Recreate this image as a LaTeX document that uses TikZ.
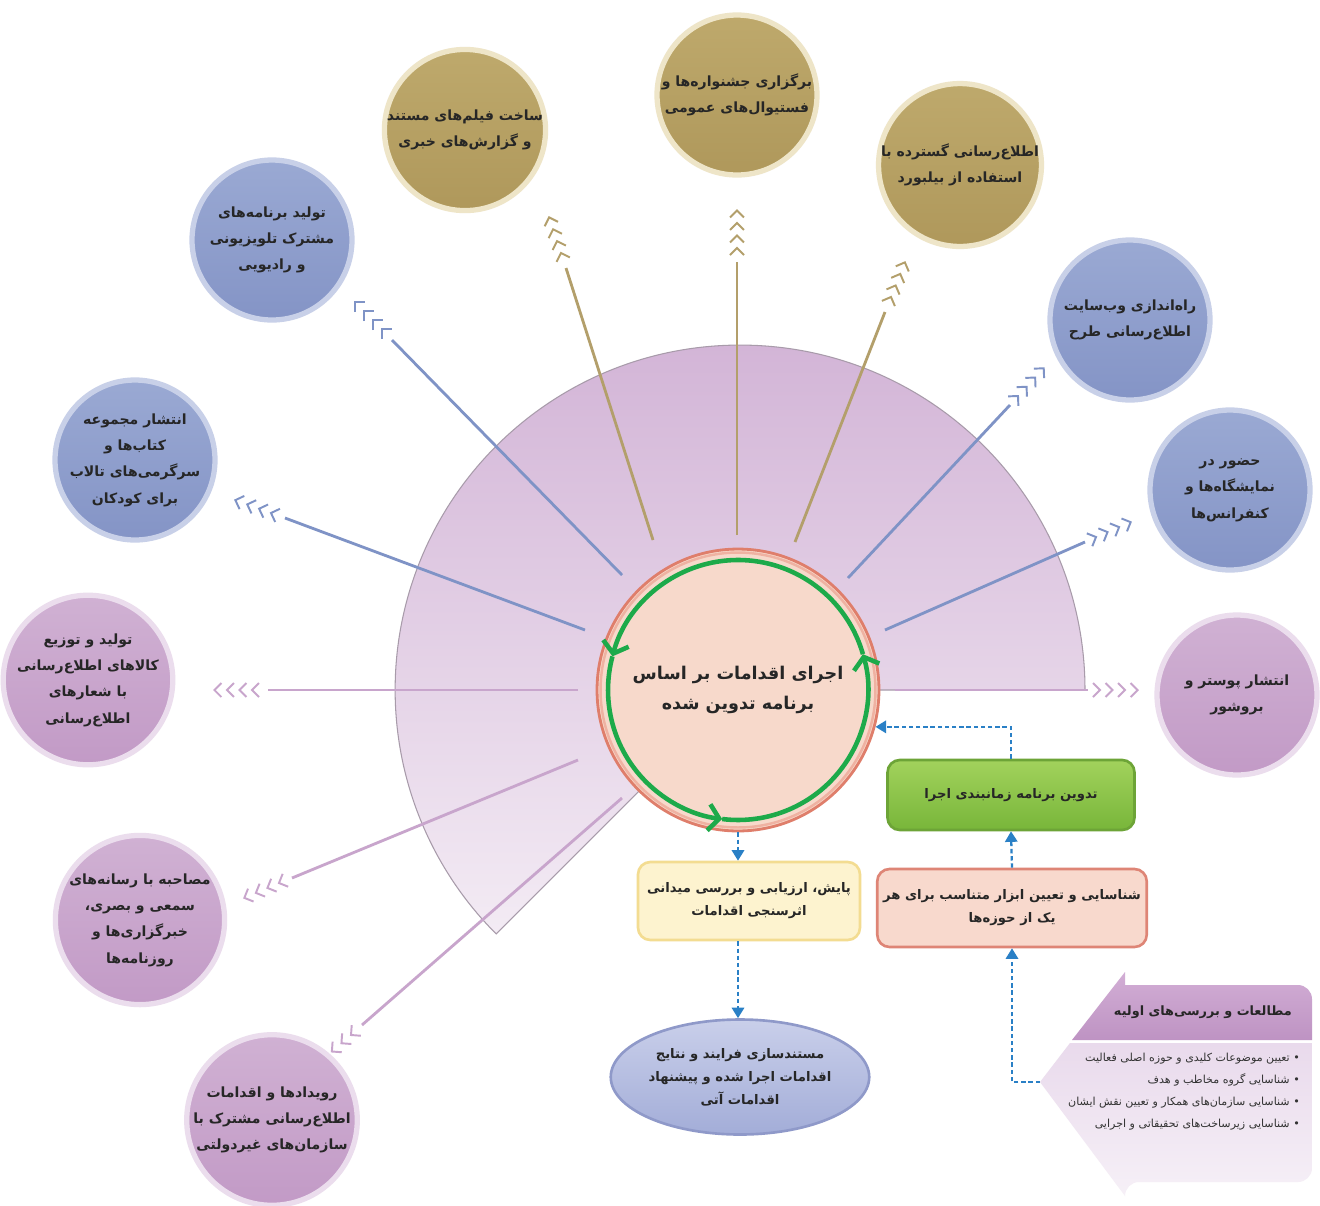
\documentclass[tikz,border=0pt]{standalone}
\usepackage{fontspec}
\usetikzlibrary{arrows.meta,calc,decorations.markings,shapes.geometric}
\newfontfamily\arabicfont[Script=Arabic]{DejaVu Sans}
\TeXXeTstate=1
\newcommand{\fa}[1]{\beginR #1\endR}
\definecolor{goldF}{HTML}{AF985B}
\definecolor{goldT}{HTML}{BEA96C}
\definecolor{goldH}{HTML}{EEE5C8}
\definecolor{goldL}{HTML}{B39F6B}
\definecolor{blueF}{HTML}{8494C6}
\definecolor{blueT}{HTML}{9AA9D3}
\definecolor{blueH}{HTML}{C8D0E8}
\definecolor{blueL}{HTML}{7F93C6}
\definecolor{purpF}{HTML}{C29AC6}
\definecolor{purpT}{HTML}{D0B1D3}
\definecolor{purpH}{HTML}{EBDDED}
\definecolor{purpL}{HTML}{C8A5CC}
\definecolor{secT}{HTML}{D3B5D7}
\definecolor{secB}{HTML}{F3EBF4}
\definecolor{secE}{HTML}{A89BAA}
\definecolor{centF}{HTML}{F7D9CB}
\definecolor{centE}{HTML}{DF7E6B}
\definecolor{centI}{HTML}{EFB2A2}
\definecolor{greenA}{HTML}{1DAA4A}
\definecolor{dotB}{HTML}{2A80C6}
\definecolor{greenT}{HTML}{A2D25C}
\definecolor{greenB}{HTML}{78B63A}
\definecolor{greenE}{HTML}{6DA437}
\definecolor{pinkF}{HTML}{F8D9CD}
\definecolor{pinkE}{HTML}{DE8576}
\definecolor{yelF}{HTML}{FDF3CF}
\definecolor{yelE}{HTML}{F3DC91}
\definecolor{ellT}{HTML}{C9CFEA}
\definecolor{ellB}{HTML}{A3ADD8}
\definecolor{ellE}{HTML}{8F99C9}
\definecolor{hdrT}{HTML}{D2AED5}
\definecolor{hdrB}{HTML}{BE93C3}
\definecolor{bodT}{HTML}{E9DAEC}
\definecolor{bodB}{HTML}{F6F0F7}
\tikzset{
  bubble/.style={circle, minimum size=3.2cm, inner sep=0pt, line width=3pt, align=center,
    font=\arabicfont\bfseries\fontsize{8}{15}\selectfont, text=black!85},
  goldB/.style={bubble, draw=goldH, top color=goldT, bottom color=goldF},
  blueB/.style={bubble, draw=blueH, top color=blueT, bottom color=blueF},
  purpB/.style={bubble, draw=purpH, top color=purpT, bottom color=purpF},
  link/.style={line width=1.6pt, draw=#1},
  chev/.style={decoration={markings, mark=between positions 0 and 1 step 0.33 with
    {\draw[draw=#1, line width=1.1pt] (-7,7) -- (0,0) -- (-7,-7);}}, decorate},
  flow/.style={draw=dotB, line width=1.3pt, dash pattern=on 2.5pt off 1.6pt,
    -{Triangle[length=6pt,width=7pt]}},
  boxtext/.style={font=\arabicfont\bfseries\fontsize{7.5}{13}\selectfont, align=center, text=black!85},
  stepbox/.style={boxtext, rectangle, rounded corners=7pt, line width=1.5pt},
  greenarc/.style={draw=greenA, line width=2.6pt, -{Straight Barb[length=6pt,width=15pt]}}
}
\begin{document}
\begin{tikzpicture}[x=0.02cm,y=0.02cm]
\useasboundingbox (0,0) rectangle (1320,-1205);
\fill[white] (0,0) rectangle (1320,-1205);
% big sector
\path[draw=secE, line width=0.6pt, top color=secT, bottom color=secB]
  (740,-690) -- (1085,-690) arc[start angle=0, end angle=225, radius=6.9cm] -- cycle;
% connectors with chevrons
\foreach \n/\cl/\sx/\sy/\ex/\ey/\kx/\ky/\tx/\ty in {
 1/goldL/653/-540/566/-268/561/-253/549/-217,
 2/goldL/737/-535/737/-262/737/-248/737/-210,
 3/goldL/795/-542/885/-312/891/-297/905/-262,
 4/blueL/622/-575/392/-340/382/-329/355/-302,
 5/blueL/585/-630/285/-518/271/-513/235/-500,
 6/blueL/848/-578/1010/-405/1018/-396/1044/-368,
 7/blueL/885/-630/1085/-542/1096/-537/1131/-522,
 8/purpL/895/-690/1088/-690/1100/-690/1138/-690,
 9/purpL/578/-690/268/-690/252/-690/214/-690,
 10/purpL/578/-760/292/-878/279/-883/244/-898,
 11/purpL/622/-798/362/-1025/351/-1035/322/-1060}
{
  \coordinate (S\n) at (\sx,\sy);
  \coordinate (E\n) at (\ex,\ey);
  \coordinate (K\n) at (\kx,\ky);
  \coordinate (T\n) at (\tx,\ty);
  \draw[link=\cl] (S\n) -- (E\n);
  \path[chev=\cl] (K\n) -- (T\n);
}
% center circle
\node[circle, minimum size=5.64cm, fill=centF, draw=centE, line width=1.6pt, inner sep=0pt,
  align=center, font=\arabicfont\bfseries\fontsize{10}{17}\selectfont, text=black!85] (C) at (738,-690)
  {\fa{اجرای اقدامات بر اساس}\\\fa{برنامه تدوین شده}};
\draw[centI, line width=1.4pt] (C.center) circle[radius=2.75cm];
\draw[greenarc] ($(C.center)+(263:2.6cm)$) arc[start angle=263, end angle=376, radius=2.6cm];
\draw[greenarc] ($(C.center)+(16:2.6cm)$) arc[start angle=16, end angle=165, radius=2.6cm];
\draw[greenarc] ($(C.center)+(165:2.6cm)$) arc[start angle=165, end angle=263, radius=2.6cm];
% outer bubbles
\node[goldB] (G1) at (465,-130) {\fa{ساخت فیلم‌های مستند}\\\fa{و گزارش‌های خبری}};
\node[goldB] (G2) at (737,-95) {\fa{برگزاری جشنواره‌ها و}\\\fa{فستیوال‌های عمومی}};
\node[goldB] (G3) at (960,-165) {\fa{اطلاع‌رسانی گسترده با}\\\fa{استفاده از بیلبورد}};
\node[blueB] (B1) at (272,-240) {\fa{تولید برنامه‌های}\\\fa{مشترک تلویزیونی}\\\fa{و رادیویی}};
\node[blueB] (B2) at (135,-460) {\fa{انتشار مجموعه}\\\fa{کتاب‌ها و}\\\fa{سرگرمی‌های تالاب}\\\fa{برای کودکان}};
\node[blueB] (B3) at (1130,-320) {\fa{راه‌اندازی وب‌سایت}\\\fa{اطلاع‌رسانی طرح}};
\node[blueB] (B4) at (1230,-490) {\fa{حضور در}\\\fa{نمایشگاه‌ها و}\\\fa{کنفرانس‌ها}};
\node[purpB] (P1) at (1237,-695) {\fa{انتشار پوستر و}\\\fa{بروشور}};
\node[purpB] (P2) at (88,-680) {\fa{تولید و توزیع}\\\fa{کالاهای اطلاع‌رسانی}\\\fa{با شعارهای}\\\fa{اطلاع‌رسانی}};
\node[purpB] (P3) at (140,-920) {\fa{مصاحبه با رسانه‌های}\\\fa{سمعی و بصری،}\\\fa{خبرگزاری‌ها و}\\\fa{روزنامه‌ها}};
\node[purpB] (P4) at (272,-1120) {\fa{رویدادها و اقدامات}\\\fa{اطلاع‌رسانی مشترک با}\\\fa{سازمان‌های غیردولتی}};
% process boxes
\node[stepbox, draw=greenE, top color=greenT, bottom color=greenB, minimum width=4.94cm, minimum height=1.4cm] (Gr) at (1011,-795)
  {\fa{تدوین برنامه زمانبندی اجرا}};
\node[stepbox, draw=pinkE, fill=pinkF, minimum width=5cm, minimum height=1.56cm] (Pk) at (1012,-908)
  {\fa{شناسایی و تعیین ابزار متناسب برای هر}\\\fa{یک از حوزه‌ها}};
\node[stepbox, draw=yelE, fill=yelF, minimum width=4.44cm, minimum height=1.56cm] (Y) at (749,-901)
  {\fa{پایش، ارزیابی و بررسی میدانی}\\\fa{اثرسنجی اقدامات}};
\node[boxtext, ellipse, draw=ellE, line width=1.5pt, top color=ellT, bottom color=ellB, minimum width=4cm, minimum height=2.3cm, inner sep=0pt] (Ev) at (740,-1077)
  {\fa{مستندسازی فرایند و نتایج}\\\fa{اقدامات اجرا شده و پیشنهاد}\\\fa{اقدامات آتی}};
% initial studies arrow shape
\path[top color=bodT, bottom color=bodB]
  (1070,-1043) -- (1312,-1043) [rounded corners=8pt] -- (1312,-1182) -- (1125,-1182) [sharp corners] -- (1125,-1196) -- (1040,-1082) -- cycle;
\path[top color=hdrT, bottom color=hdrB]
  (1125,-972) -- (1125,-985) [rounded corners=8pt] -- (1312,-985) [sharp corners] -- (1312,-1040) -- (1072,-1040) -- cycle;
\coordinate (At) at (1040,-1082);
\node[font=\arabicfont\bfseries\fontsize{7.3}{10}\selectfont, text=black!85, anchor=east] (Ah) at (1298,-1012)
  {\fa{مطالعات و بررسی‌های اولیه}};
\node[font=\arabicfont\fontsize{6.3}{12.5}\selectfont, text=black!80, align=right, anchor=east] (Ab) at (1306,-1092)
  {\fa{• تعیین موضوعات کلیدی و حوزه اصلی فعالیت}\\\fa{• شناسایی گروه مخاطب و هدف}\\\fa{• شناسایی سازمان‌های همکار و تعیین نقش ایشان}\\\fa{• شناسایی زیرساخت‌های تحقیقاتی و اجرایی}};
% flow arrows
\draw[flow] (C.south) -- (C.south |- Y.north);
\draw[flow] (C.south |- Y.south) -- (C.south |- Ev.north);
\draw[flow] (Pk.north) -- (Gr.south);
\draw[flow] (Gr.north) |- (C.-15);
\draw[flow] (At) -| (Pk.south);
\end{tikzpicture}
\end{document}
